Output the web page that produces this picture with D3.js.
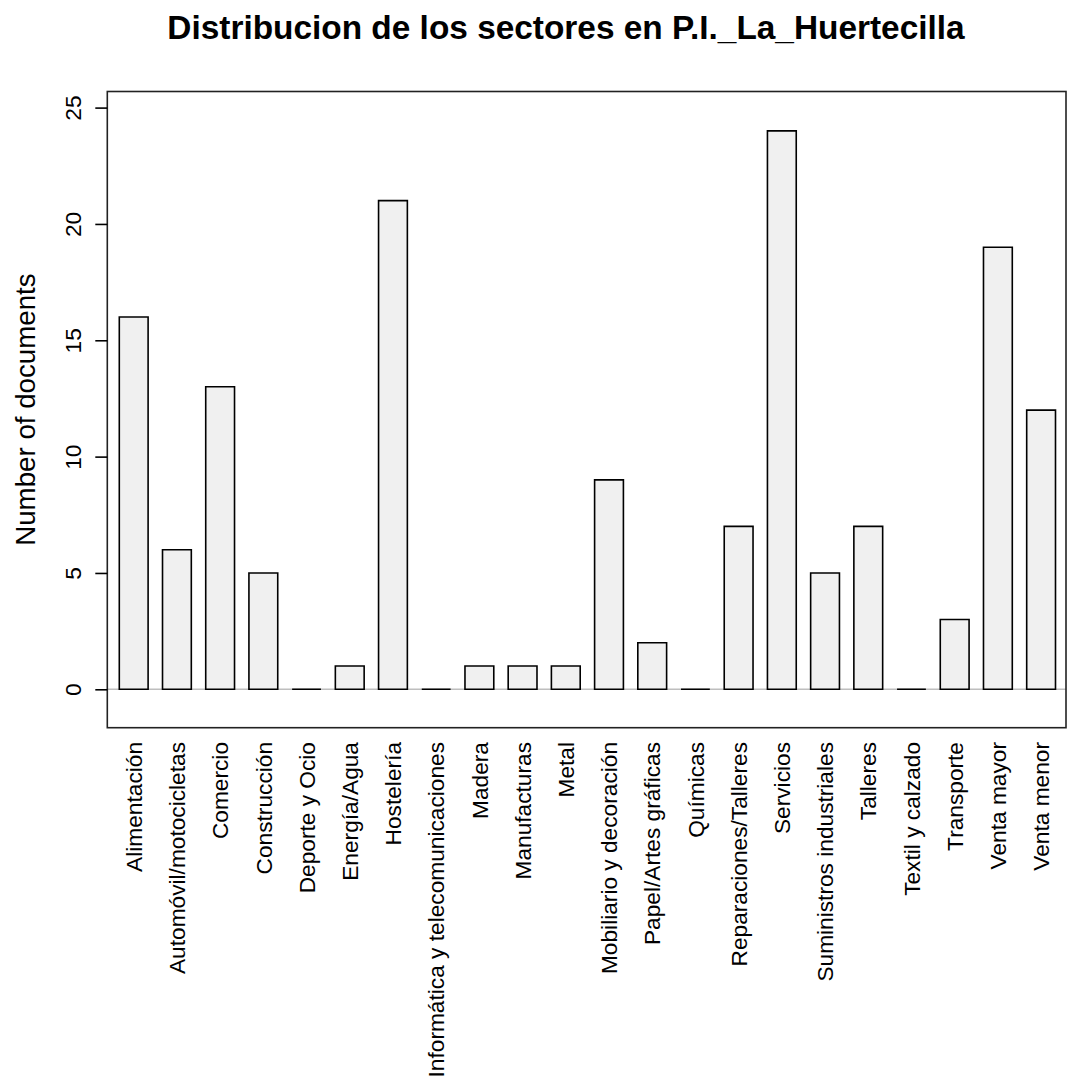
<!doctype html>
<html lang="es">
<head>
    <meta charset="utf-8">
    <title>Distribucion de los sectores</title>
    <script src="https://d3js.org/d3.v7.min.js"></script>
    <style>
        body { margin: 0; background: #fff; }
        svg text { font-family: "Liberation Sans", Arial, sans-serif; fill: #000; }
    </style>
</head>
<body>
<script>
    // data
    var sectores = ["Alimentación", "Automóvil/motocicletas", "Comercio", "Construcción",
        "Deporte y Ocio", "Energía/Agua", "Hostelería", "Informática y telecomunicaciones",
        "Madera", "Manufacturas", "Metal", "Mobiliario y decoración", "Papel/Artes gráficas",
        "Químicas", "Reparaciones/Talleres", "Servicios", "Suministros industriales",
        "Talleres", "Textil y calzado", "Transporte", "Venta mayor", "Venta menor"];
    var documentos = [16, 6, 13, 5, 0, 1, 21, 0, 1, 1, 1, 9, 2, 0, 7, 24, 5, 7, 0, 3, 19, 12];
    var yTicks = [0, 5, 10, 15, 20, 25];

    var width = 1067,
        height = 1081;

    // plot frame
    var box = { left: 107.3, right: 1066, top: 91.5, bottom: 727.7 };

    var svg = d3.select("body").append("svg")
        .attr("width", width)
        .attr("height", height);

    var x = d3.scaleBand()
        .domain(sectores)
        .range([119.3, 1055.5])
        .paddingInner(1 / 3)
        .paddingOuter(0);

    var y = d3.scaleLinear()
        .domain([0, 25])
        .range([689.3, 107.6]);

    // zero line
    svg.append("line")
        .attr("x1", box.left).attr("x2", box.right)
        .attr("y1", y(0)).attr("y2", y(0))
        .attr("stroke", "#bebebe")
        .attr("stroke-width", 1.5);

    // bars as paths so zero values still show as a line
    svg.selectAll("path.bar")
        .data(sectores)
        .enter().append("path")
        .attr("class", "bar")
        .attr("fill", "#f0f0f0")
        .attr("stroke", "#000")
        .attr("stroke-width", 1.6)
        .attr("d", function (d, i) {
            var x0 = x(d), x1 = x(d) + x.bandwidth();
            return "M" + x0 + "," + y(0) + "H" + x1 + "V" + y(documentos[i]) + "H" + x0 + "Z";
        });

    // frame
    svg.append("rect")
        .attr("x", box.left)
        .attr("y", box.top)
        .attr("width", box.right - box.left)
        .attr("height", box.bottom - box.top)
        .attr("fill", "none")
        .attr("stroke", "#222")
        .attr("stroke-width", 1.6);

    // y axis
    var yAxis = svg.append("g")
        .attr("transform", "translate(" + box.left + ",0)")
        .call(d3.axisLeft(y).tickValues(yTicks).tickSize(12).tickPadding(0));
    yAxis.select(".domain").remove();
    yAxis.selectAll(".tick line").attr("stroke", "#000").attr("stroke-width", 1.6);
    yAxis.selectAll(".tick text")
        .attr("x", null).attr("dy", null)
        .attr("text-anchor", "middle")
        .attr("transform", "translate(-34.8,0) rotate(-90)")
        .attr("dy", "0.36em")
        .style("font-size", "22.7px")
        .style("font-family", "'Liberation Sans', Arial, sans-serif");

    // x labels, vertical
    svg.selectAll("text.xlab")
        .data(sectores)
        .enter().append("text")
        .attr("class", "xlab")
        .attr("transform", function (d) {
            return "translate(" + (x(d) + x.bandwidth() / 2) + ",742) rotate(-90)";
        })
        .attr("text-anchor", "end")
        .attr("dy", "0.36em")
        .style("font-size", "22.7px")
        .text(function (d) { return d; });

    // y label
    svg.append("text")
        .attr("transform", "translate(25," + ((box.top + box.bottom) / 2) + ") rotate(-90)")
        .attr("text-anchor", "middle")
        .attr("dy", "0.36em")
        .style("font-size", "27.7px")
        .text("Number of documents");

    // title
    svg.append("text")
        .attr("x", 566)
        .attr("y", 39.3)
        .attr("text-anchor", "middle")
        .style("font-size", "33.4px")
        .style("font-weight", "bold")
        .text("Distribucion de los sectores en P.I._La_Huertecilla");
</script>
</body>
</html>
